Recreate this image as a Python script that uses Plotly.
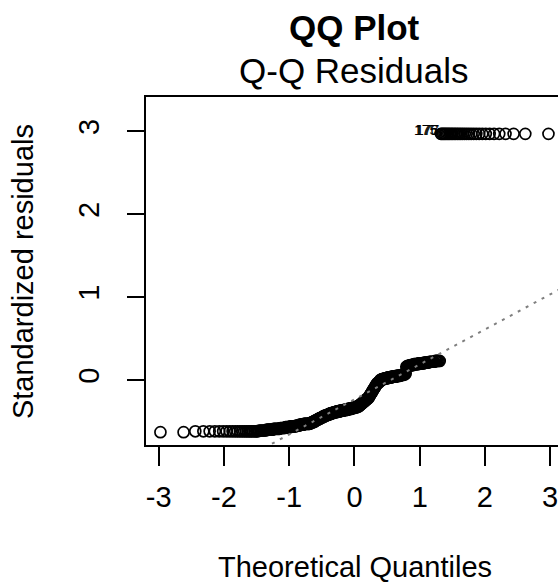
import numpy as np
import plotly.graph_objects as go
from statistics import NormalDist

# ---------------- data ----------------
title_text = "QQ Plot"
subtitle_text = "Q-Q Residuals"
x_title = "Theoretical Quantiles"
y_title = "Standardized residuals"
x_tick_vals = [-3, -2, -1, 0, 1, 2, 3]
y_tick_vals = [0, 1, 2, 3]

# sorted standardized residuals (340 observations)
std_residuals = [
    -0.63, -0.63, -0.62, -0.62, -0.62, -0.62, -0.62, -0.62, -0.62, -0.62,
    -0.62, -0.62, -0.62, -0.62, -0.62, -0.62, -0.62, -0.62, -0.62, -0.62,
    -0.62, -0.62, -0.62, -0.62, -0.61, -0.61, -0.61, -0.61, -0.61, -0.61,
    -0.60, -0.60, -0.60, -0.60, -0.60, -0.60, -0.59, -0.59, -0.59, -0.59, -0.59,
    -0.59, -0.59, -0.58, -0.58, -0.58, -0.58, -0.58, -0.58, -0.57, -0.57,
    -0.57, -0.57, -0.57, -0.57, -0.56, -0.56, -0.56, -0.56, -0.56, -0.56, -0.56,
    -0.56, -0.55, -0.55, -0.55, -0.55, -0.55, -0.54, -0.54, -0.54, -0.54,
    -0.54, -0.54, -0.53, -0.53, -0.53, -0.53, -0.53, -0.53, -0.53, -0.53, -0.53,
    -0.53, -0.52, -0.52, -0.52, -0.51, -0.51, -0.51, -0.50, -0.50, -0.50,
    -0.49, -0.49, -0.48, -0.48, -0.48, -0.47, -0.47,
    -0.47, -0.46, -0.46, -0.46, -0.45, -0.45, -0.45, -0.44, -0.44, -0.44,
    -0.43, -0.43, -0.43, -0.43, -0.42, -0.42, -0.42, -0.42, -0.41, -0.41,
    -0.41, -0.41, -0.40, -0.40,
    -0.40, -0.40, -0.40, -0.39, -0.39, -0.39, -0.39, -0.39, -0.39, -0.38,
    -0.38, -0.38, -0.38, -0.38, -0.38, -0.38, -0.37, -0.37, -0.37, -0.37,
    -0.37, -0.37, -0.37, -0.37, -0.36, -0.36, -0.36, -0.36, -0.36, -0.36,
    -0.36, -0.36, -0.35, -0.35, -0.35, -0.35, -0.35, -0.35, -0.35, -0.34,
    -0.34, -0.34, -0.34, -0.34, -0.34, -0.33, -0.33, -0.33, -0.33, -0.33,
    -0.33, -0.32, -0.32, -0.32, -0.32,
    -0.31, -0.31, -0.30, -0.30, -0.29, -0.29, -0.28, -0.28, -0.27, -0.27,
    -0.26, -0.26, -0.25, -0.25, -0.24, -0.24, -0.23, -0.23, -0.22, -0.22, -0.21,
    -0.20, -0.19, -0.18, -0.17, -0.16, -0.15, -0.14, -0.13, -0.12, -0.11,
    -0.10, -0.09, -0.08, -0.07, -0.06, -0.05, -0.04, -0.04, -0.03, -0.03,
    -0.02, -0.02,
    0.00, 0.00, 0.00, 0.01, 0.01, 0.01, 0.01, 0.01, 0.02, 0.02,
    0.02, 0.02, 0.02, 0.02, 0.03, 0.03, 0.03, 0.03, 0.03, 0.03,
    0.03, 0.04, 0.04, 0.04, 0.04, 0.04, 0.04, 0.04, 0.04, 0.05,
    0.05, 0.05, 0.05, 0.05, 0.05, 0.05, 0.06, 0.06, 0.06, 0.06,
    0.06, 0.07, 0.07, 0.07, 0.08,
    0.16, 0.16, 0.17, 0.17, 0.17, 0.17, 0.18, 0.18, 0.18, 0.18,
    0.18, 0.19, 0.19, 0.19, 0.19, 0.19, 0.19, 0.20, 0.20, 0.20,
    0.20, 0.20, 0.20, 0.20, 0.21, 0.21, 0.21, 0.21, 0.21, 0.21,
    0.22, 0.22, 0.22, 0.22, 0.22, 0.22, 0.23, 0.23, 0.23, 0.23, 0.23,
    2.97, 2.97, 2.97, 2.97, 2.97, 2.97, 2.97, 2.97, 2.97, 2.97,
    2.97, 2.97, 2.97, 2.97, 2.97, 2.97, 2.97, 2.97, 2.97, 2.97,
    2.97, 2.97, 2.97, 2.97, 2.97, 2.97, 2.97, 2.97, 2.97, 2.97,
    2.97, 2.97,
]
# ids of the three most extreme residuals (first ones of the tied top group)
extreme_ids = ["175", "176", "177"]
extreme_rank = [308, 309, 310]

# ---------------- derived (Q-Q transform) ----------------
nd = NormalDist()
res = np.array(std_residuals)
n = len(res)
theo = np.array([nd.inv_cdf((i + 0.5) / n) for i in range(n)])

q25, q75 = np.quantile(res, [0.25, 0.75])
t25, t75 = nd.inv_cdf(0.25), nd.inv_cdf(0.75)
slope = (q75 - q25) / (t75 - t25)
intercept = q25 - slope * t25
x_range = [-3.195, 3.12]
y_range = [-0.785, 3.415]
line_x = np.array([x_range[0] - 0.5, x_range[1] + 0.5])
line_y = intercept + slope * line_x

FONT = "Liberation Sans, Arial, sans-serif"

fig = go.Figure()
fig.add_trace(go.Scatter(
    x=theo, y=res, mode="markers",
    marker=dict(symbol="circle-open", size=11, color="black",
                line=dict(width=1.7, color="black")),
    hoverinfo="skip", showlegend=False, cliponaxis=False,
))
fig.add_trace(go.Scatter(
    x=line_x, y=line_y, mode="lines",
    line=dict(color="#7f7f7f", width=2, dash="3px,6px"),
    hoverinfo="skip", showlegend=False,
))

annotations = []
for lab, r in zip(extreme_ids, extreme_rank):
    annotations.append(dict(
        x=theo[r], y=res[r], xref="x", yref="y", text=lab, showarrow=False,
        xanchor="right", yanchor="middle", xshift=-1, yshift=4,
        font=dict(family=FONT, size=14, color="black"),
    ))

annotations += [
    dict(text="<b>" + title_text + "</b>", x=0.505, y=1.201, xref="paper", yref="paper",
         showarrow=False, xanchor="center", yanchor="middle",
         font=dict(family=FONT, size=35, color="black")),
    dict(text=subtitle_text, x=0.505, y=1.075, xref="paper", yref="paper",
         showarrow=False, xanchor="center", yanchor="middle",
         font=dict(family=FONT, size=35, color="black")),
    dict(text=x_title, x=0.507, y=-0.350, xref="paper", yref="paper",
         showarrow=False, xanchor="center", yanchor="middle",
         font=dict(family=FONT, size=29, color="black")),
    dict(text=y_title, x=-0.2985, y=0.497, xref="paper", yref="paper",
         showarrow=False, xanchor="center", yanchor="middle", textangle=-90,
         font=dict(family=FONT, size=29, color="black")),
]

fig.update_layout(
    width=558, height=582,
    margin=dict(l=146, r=0, t=97, b=137, pad=0),
    paper_bgcolor="white", plot_bgcolor="white",
    showlegend=False,
    annotations=annotations,
    font=dict(family=FONT, color="black"),
)
fig.update_xaxes(
    range=x_range, tickvals=x_tick_vals, ticktext=[str(v) for v in x_tick_vals],
    ticks="outside", ticklen=19, tickwidth=1.5, tickcolor="black",
    showline=True, linecolor="black", linewidth=1.5, mirror=True,
    showgrid=False, zeroline=False, ticklabelstandoff=6,
    ticklabeloverflow="allow",
    tickfont=dict(family=FONT, size=29, color="black"),
)
fig.update_yaxes(
    range=y_range, tickvals=y_tick_vals, ticktext=[str(v) for v in y_tick_vals],
    ticks="outside", ticklen=17, tickwidth=1.5, tickcolor="black",
    showline=True, linecolor="black", linewidth=1.5, mirror=False,
    showgrid=False, zeroline=False, tickangle=-90, ticklabelstandoff=17,
    tickfont=dict(family=FONT, size=29, color="black"),
)

fig.write_html("out.html")
